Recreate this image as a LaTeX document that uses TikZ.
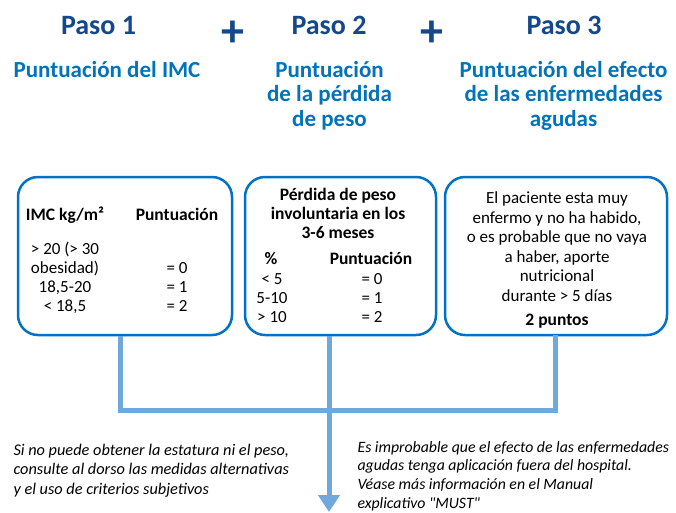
\documentclass[tikz,border=0pt]{standalone}
\usepackage{fontspec}
\setmainfont{Carlito}
\usetikzlibrary{arrows.meta}
\definecolor{pasoblue}{RGB}{20,72,138}
\definecolor{subblue}{RGB}{0,115,187}
\definecolor{boxblue}{RGB}{0,114,198}
\definecolor{linkblue}{RGB}{111,168,220}
\tikzset{paso/.style={anchor=base,text=pasoblue,font=\fontsize{28}{30}\selectfont\bfseries},
  masbox/.style={text=pasoblue,font=\fontsize{46}{46}\selectfont\bfseries,inner sep=0pt},
  subtitulo/.style={anchor=base,align=center,text=subblue,font=\fontsize{23}{24.5}\selectfont\bfseries},
  caja/.style={draw=boxblue,line width=2.5pt,rounded corners=20pt,inner sep=0pt,outer sep=0pt},
  texto/.style={anchor=base,align=center,font=\fontsize{17}{19}\selectfont},
  negrita/.style={anchor=base,align=center,font=\fontsize{17.5}{19}\selectfont\bfseries},
  nota/.style={anchor=base west,align=left,font=\fontsize{16.3}{19.5}\selectfont\itshape},
  enlace/.style={draw=linkblue,line width=5pt}}

\begin{document}
\begin{tikzpicture}[x=1pt,y=-1pt]
      \useasboundingbox (0,0) rectangle (676,512);

      \node[paso] (p1) at (98.5,34) {Paso 1};
      \node[paso] (p2) at (329,34) {Paso 2};
      \node[paso] (p3) at (564,34) {Paso 3};
      \node[masbox] (mas1) at (233,34) {+};
      \node[masbox] (mas2) at (432,34) {+};

      % anchor base = baseline of the last line
      \node[subtitulo] (s1) at (107,77) {Puntuación del IMC};
      \node[subtitulo] (s2) at (329.5,126) {Puntuación\\de la pérdida\\de peso};
      \node[subtitulo] (s3) at (563.5,126) {Puntuación del efecto\\de las enfermedades\\agudas};

      \node[caja,minimum width=214pt,minimum height=158pt] (imc) at (125,256) {};
      \node[caja,minimum width=191pt,minimum height=158pt] (perdida) at (340.5,256) {};
      \node[caja,minimum width=222pt,minimum height=158pt] (agudo) at (556,256) {};

      % casilla IMC
      \node[negrita] (imchead) at (65,220) {IMC kg/m²};
      \node[negrita] (imcpunt) at (177,220) {Puntuación};
      \node[texto] (imcval) at (65,311) {> 20 (> 30\\obesidad)\\18,5-20\\< 18,5};
      \node[texto] (imcres) at (177,311) {= 0\\= 1\\= 2};

      % casilla perdida de peso
      \node[negrita] (perhead) at (338,238) {Pérdida de peso\\involuntaria en los\\3-6 meses};
      \node[negrita] (perpct) at (271,264) {\%};
      \node[negrita] (perpunt) at (371,264) {Puntuación};
      \node[texto] (perval) at (272,322) {< 5\\5-10\\> 10};
      \node[texto] (perres) at (372,322) {= 0\\= 1\\= 2};

      % casilla enfermedad aguda
      \node[texto,font=\fontsize{17}{19.5}\selectfont] (agtxt) at (557,301) {El paciente esta muy\\enfermo y no ha habido,\\o es probable que no vaya\\a haber, aporte\\nutricional\\durante > 5 días};
      \node[negrita] (agpunt) at (557,325) {2 puntos};

      \coordinate (uimc) at (120,410);
      \coordinate (uperdida) at (329,410);
      \coordinate (uagudo) at (555,410);
      \coordinate (fin) at (329,512);

      \draw[enlace,shorten <=1.25pt] (imc.south -| uimc) -- (uimc) -- (uagudo) -- (agudo.south -| uagudo);
      \draw[enlace,shorten <=1.25pt] (perdida.south -| uperdida) -- (uperdida);
      \draw[enlace,-{Triangle[length=17pt,width=21pt]}] (uperdida) -- (fin);

      \node[nota] (nota1) at (10,494) {Si no puede obtener la estatura ni el peso,\\consulte al dorso las medidas alternativas\\y el uso de criterios subjetivos};
      \node[nota,font=\fontsize{15.8}{18.6}\selectfont\itshape] (nota2) at (354,508) {Es improbable que el efecto de las enfermedades\\agudas tenga aplicación fuera del hospital.\\Véase más información en el Manual\\explicativo \textquotedbl MUST\textquotedbl};
  \end{tikzpicture}
\end{document}
